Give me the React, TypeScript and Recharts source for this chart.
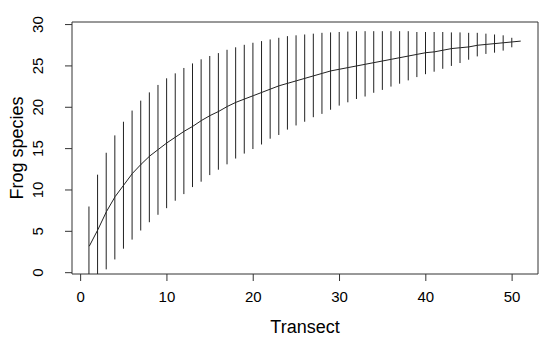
import { Bar, ComposedChart, Line, ReferenceArea, XAxis, YAxis } from "recharts";

// species accumulation: mean and +/- 2 sd per number of transects
const transects = [
  1, 2, 3, 4, 5, 6, 7, 8, 9, 10, 11, 12, 13, 14, 15, 16, 17, 18, 19, 20, 21, 22, 23, 24, 25, 26,
  27, 28, 29, 30, 31, 32, 33, 34, 35, 36, 37, 38, 39, 40, 41, 42, 43, 44, 45, 46, 47, 48, 49, 50, 51,
];
const richness = [
  3.2, 5.2, 7.4, 9.2, 10.6, 12.0, 13.1, 14.1, 14.9, 15.7, 16.4, 17.1, 17.7, 18.4, 19.0, 19.5, 20.1,
  20.6, 21.0, 21.4, 21.8, 22.2, 22.6, 22.9, 23.2, 23.5, 23.8, 24.1, 24.4, 24.6, 24.8, 25.0, 25.2,
  25.4, 25.6, 25.8, 26.0, 26.2, 26.4, 26.6, 26.7, 26.9, 27.1, 27.2, 27.3, 27.5, 27.6, 27.7, 27.8,
  27.9, 28.0,
];
const upper = [
  8.0, 11.85, 14.5, 16.6, 18.25, 19.6, 20.8, 21.8, 22.7, 23.5, 24.1, 24.75, 25.3, 25.8, 26.2, 26.55,
  26.95, 27.25, 27.55, 27.8, 28.0, 28.2, 28.4, 28.6, 28.7, 28.8, 28.9, 29.0, 29.05, 29.1, 29.15,
  29.2, 29.2, 29.2, 29.2, 29.2, 29.2, 29.2, 29.1, 29.1, 29.1, 29.1, 29.05, 29.05, 29.0, 29.0, 28.9,
  28.8, 28.7, 28.4, 28.0,
];
const lower = [
  -1.6, -1.45, 0.4, 1.6, 2.9, 4.0, 5.1, 6.1, 7.0, 7.8, 8.7, 9.5, 10.35, 11.0, 11.8, 12.45, 13.1,
  13.8, 14.4, 14.95, 15.5, 16.2, 16.65, 17.3, 17.8, 18.25, 18.8, 19.2, 19.7, 20.2, 20.6, 21.0, 21.3,
  21.75, 22.1, 22.5, 22.85, 23.25, 23.65, 24.0, 24.3, 24.65, 25.0, 25.35, 25.75, 26.15, 26.45, 26.6,
  26.85, 27.25, 28.0,
];
const xTicks = [0, 10, 20, 30, 40, 50];
const yTicks = [0, 5, 10, 15, 20, 25, 30];
const xDomain = [-1, 53];
const yDomain = [-0.16, 30.31];

const data = transects.map((t, i) => ({
  transect: t,
  richness: richness[i],
  range: [lower[i], upper[i]],
}));

const font = "'Liberation Sans', Arial, sans-serif";

function RotatedTick(props: any) {
  const { x, y, payload } = props;
  const bx = x - 20;
  return (
    <text
      x={bx}
      y={y}
      transform={`rotate(-90 ${bx} ${y})`}
      textAnchor="middle"
      fontSize={15}
      fontFamily={font}
      fill="#000"
    >
      {payload.value}
    </text>
  );
}

function Whisker(props: any) {
  const { x, y, width, height } = props;
  if (!height) return null;
  const cx = x + width / 2;
  return <line x1={cx} x2={cx} y1={y} y2={y + height} stroke="#222" strokeWidth={1} />;
}

export default function App() {
  return (
    <div style={{ margin: -8, background: "#fff", width: 550, height: 343 }}>
      <ComposedChart
        width={550}
        height={343}
        data={data}
        margin={{ top: 22, right: 12, bottom: 0, left: 0 }}
      >
        <XAxis
          type="number"
          dataKey="transect"
          domain={xDomain}
          ticks={xTicks}
          allowDataOverflow
          height={69}
          axisLine={false}
          tickSize={7}
          tickLine={{ stroke: "#333" }}
          tick={{ fontSize: 15, fill: "#000", fontFamily: font }}
          tickMargin={10}
          label={{
            value: "Transect",
            position: "insideBottom",
            offset: 10,
            style: { fontSize: 18, fill: "#000", fontFamily: font },
          }}
        />
        <YAxis
          type="number"
          domain={yDomain}
          ticks={yTicks}
          allowDataOverflow
          width={72}
          axisLine={false}
          tickSize={7}
          tickLine={{ stroke: "#333" }}
          tick={<RotatedTick />}
          label={{
            value: "Frog species",
            angle: -90,
            position: "insideLeft",
            offset: 17,
            style: { fontSize: 18, fill: "#000", fontFamily: font, textAnchor: "middle" },
          }}
        />
        <ReferenceArea
          x1={xDomain[0]}
          x2={xDomain[1]}
          y1={yDomain[0]}
          y2={yDomain[1]}
          fill="none"
          stroke="#333"
          strokeWidth={1}
        />
        <Bar dataKey="range" barSize={2} shape={<Whisker />} isAnimationActive={false} />
        <Line
          type="linear"
          dataKey="richness"
          stroke="#222"
          strokeWidth={1}
          dot={false}
          isAnimationActive={false}
        />
      </ComposedChart>
    </div>
  );
}
